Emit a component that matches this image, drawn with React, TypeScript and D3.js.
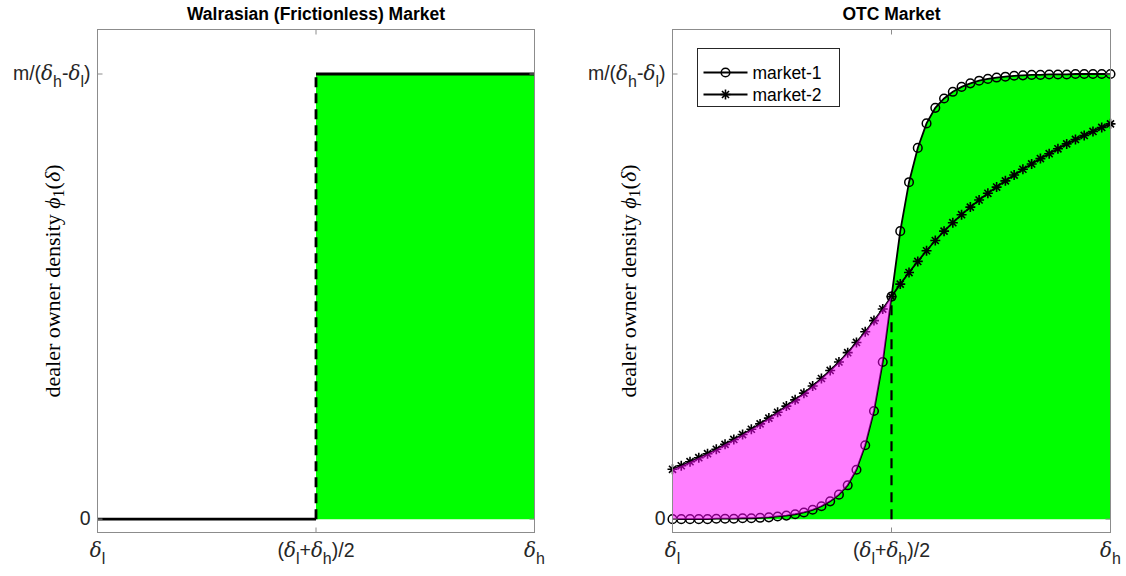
import React from 'react';
import * as d3 from 'd3';

// valuation grid on [delta_l, delta_h], normalised to [0, 1]
const deltaGrid = [
  0.0, 0.02, 0.04, 0.06, 0.08, 0.1, 0.12, 0.14, 0.16, 0.18,
  0.2, 0.22, 0.24, 0.26, 0.28, 0.3, 0.32, 0.34, 0.36, 0.38,
  0.4, 0.42, 0.44, 0.46, 0.48, 0.5, 0.52, 0.54, 0.56, 0.58,
  0.6, 0.62, 0.64, 0.66, 0.68, 0.7, 0.72, 0.74, 0.76, 0.78,
  0.8, 0.82, 0.84, 0.86, 0.88, 0.9, 0.92, 0.94, 0.96, 0.98, 1.0,
];

// dealer owner density phi_1(delta), in units of m/(delta_h - delta_l)
const market1 = [
  0.0, 0.0, 0.0, 0.0, 0.0, 0.001, 0.001, 0.001, 0.002, 0.002,
  0.003, 0.004, 0.006, 0.008, 0.011, 0.015, 0.021, 0.029, 0.04, 0.055,
  0.076, 0.111, 0.166, 0.243, 0.353, 0.5, 0.647, 0.757, 0.834, 0.889,
  0.924, 0.945, 0.96, 0.971, 0.979, 0.985, 0.989, 0.992, 0.994, 0.996,
  0.997, 0.998, 0.998, 0.999, 0.999, 0.999, 1.0, 1.0, 1.0, 1.0, 1.0,
];
const market2 = [
  0.112, 0.12, 0.129, 0.138, 0.147, 0.157, 0.168, 0.179, 0.19, 0.202,
  0.214, 0.227, 0.24, 0.254, 0.268, 0.283, 0.299, 0.316, 0.334, 0.353,
  0.374, 0.397, 0.421, 0.446, 0.472, 0.5, 0.528, 0.554, 0.579, 0.603,
  0.626, 0.647, 0.666, 0.684, 0.701, 0.717, 0.732, 0.746, 0.76, 0.773,
  0.786, 0.798, 0.81, 0.821, 0.832, 0.843, 0.853, 0.862, 0.871, 0.88, 0.888,
];

// Walrasian step: nobody below the midpoint, full density above it
const walrasX = [0, 0.5, 1];
const walrasLow = 0;
const walrasHigh = 1;
const midpoint = 0.5;

const xTickValues = [0, 0.5, 1];
const yTickValues = [0, 1];
const titles = ['Walrasian (Frictionless) Market', 'OTC Market'];
const legendLabels = ['market-1', 'market-2'];

type Part = { t: string; kind?: 'greek' | 'sub' };
const xTickParts: Part[][] = [
  [{ t: 'δ', kind: 'greek' }, { t: 'l', kind: 'sub' }],
  [{ t: '(' }, { t: 'δ', kind: 'greek' }, { t: 'l', kind: 'sub' }, { t: '+' }, { t: 'δ', kind: 'greek' }, { t: 'h', kind: 'sub' }, { t: ')/2' }],
  [{ t: 'δ', kind: 'greek' }, { t: 'h', kind: 'sub' }],
];
const yTickParts: Part[][] = [
  [{ t: '0' }],
  [{ t: 'm/(' }, { t: 'δ', kind: 'greek' }, { t: 'h', kind: 'sub' }, { t: '-' }, { t: 'δ', kind: 'greek' }, { t: 'l', kind: 'sub' }, { t: ')' }],
];

const SANS = '"Liberation Sans", Arial, Helvetica, sans-serif';
const SERIF = '"Liberation Serif", "Times New Roman", serif';
const GREEK = '"DejaVu Serif", "Liberation Serif", serif';
const GREEN = '#00ff00';
const TEXT = '#262626';
const AXIS = '#8c8c8c';

const W = 1126;
const H = 576;
const TOP = 29.5;
const BOTTOM = 532.5;
const panels = [
  { x0: 97.5, x1: 534.5, labelX: 60 },
  { x0: 672.5, x1: 1110.5, labelX: 636 },
];

function RichText({ x, y, parts, anchor, size }: { x: number; y: number; parts: Part[]; anchor: string; size: number }) {
  let shift = 0;
  const nodes = parts.map((p, i) => {
    const target = p.kind === 'sub' ? size * 0.36 : 0;
    const dy = target - shift;
    shift = target;
    const fs = p.kind === 'sub' ? size * 0.82 : p.kind === 'greek' ? size * 1.02 : size;
    return (
      <tspan key={i} dy={dy} fontSize={fs}
        fontFamily={p.kind === 'greek' ? GREEK : SANS}
        fontStyle={p.kind === 'greek' ? 'italic' : 'normal'}>{p.t}</tspan>
    );
  });
  return (
    <text x={x} y={y} textAnchor={anchor} fontSize={size} fontFamily={SANS} fill={TEXT}>{nodes}</text>
  );
}

function asteriskPath(cx: number, cy: number, r: number) {
  const d = r * Math.SQRT1_2;
  return `M${cx - r},${cy}L${cx + r},${cy}M${cx},${cy - r}L${cx},${cy + r}` +
    `M${cx - d},${cy - d}L${cx + d},${cy + d}M${cx - d},${cy + d}L${cx + d},${cy - d}`;
}

function Frame({ x, y, title, labelX }: { x: d3.ScaleLinear<number, number>; y: d3.ScaleLinear<number, number>; title: string; labelX: number }) {
  const [x0, x1] = x.range();
  const cx = (x0 + x1) / 2;
  const cy = (TOP + BOTTOM) / 2;
  const tickLen = 5;
  return (
    <g>
      <rect x={x0} y={TOP} width={x1 - x0} height={BOTTOM - TOP} fill="none" stroke={AXIS} strokeWidth={1} />
      {xTickValues.map((v, i) => (
        <g key={'xt' + i}>
          <line x1={x(v)} x2={x(v)} y1={BOTTOM} y2={BOTTOM - tickLen} stroke={AXIS} />
          <line x1={x(v)} x2={x(v)} y1={TOP} y2={TOP + tickLen} stroke={AXIS} />
          <RichText x={x(v)} y={BOTTOM + 24} parts={xTickParts[i]} anchor="middle" size={19.5} />
        </g>
      ))}
      {yTickValues.map((v, i) => (
        <g key={'yt' + i}>
          <line x1={x0} x2={x0 + tickLen} y1={y(v)} y2={y(v)} stroke={AXIS} />
          <line x1={x1} x2={x1 - tickLen} y1={y(v)} y2={y(v)} stroke={AXIS} />
          <RichText x={x0 - 7} y={y(v) + 6} parts={yTickParts[i]} anchor="end" size={19.5} />
        </g>
      ))}
      <text x={cx} y={20} textAnchor="middle" fontFamily={SANS} fontWeight="bold" fontSize={17.5} fill="#000">{title}</text>
      <text transform={`translate(${labelX},${cy}) rotate(-90)`} textAnchor="middle" fontFamily={SERIF} fontSize={22} fill="#000">
        <tspan>dealer owner density </tspan>
        <tspan fontStyle="italic">ϕ</tspan>
        <tspan fontSize={16} dy={4}>1</tspan>
        <tspan dy={-4}>(</tspan>
        <tspan fontStyle="italic">δ</tspan>
        <tspan>)</tspan>
      </text>
    </g>
  );
}

function WalrasPanel() {
  const p = panels[0];
  const x = d3.scaleLinear().domain([0, 1]).range([p.x0, p.x1]);
  const y = d3.scaleLinear().domain([-0.03, 1.1]).range([BOTTOM, TOP]);
  const upper = walrasX.filter((v) => v >= midpoint);
  const lower = walrasX.filter((v) => v <= midpoint);
  const fillArea = d3.area<number>().x((v) => x(v)).y0(y(walrasLow)).y1(y(walrasHigh));
  const seg = d3.line<[number, number]>().x((d) => x(d[0])).y((d) => y(d[1]));
  return (
    <g>
      <path d={fillArea(upper) || ''} fill={GREEN} />
      <path d={seg(lower.map((v) => [v, walrasLow] as [number, number])) || ''} stroke="#000" strokeWidth={2.8} fill="none" />
      <path d={seg(upper.map((v) => [v, walrasHigh] as [number, number])) || ''} stroke="#000" strokeWidth={2.8} fill="none" />
      <path d={seg([[midpoint, walrasLow], [midpoint, walrasHigh]]) || ''} stroke="#000" strokeWidth={2.8} strokeDasharray="10,6" fill="none" />
      <Frame x={x} y={y} title={titles[0]} labelX={p.labelX} />
    </g>
  );
}

function OtcPanel() {
  const p = panels[1];
  const x = d3.scaleLinear().domain([0, 1]).range([p.x0, p.x1]);
  const y = d3.scaleLinear().domain([-0.03, 1.1]).range([BOTTOM, TOP]);
  const idx = deltaGrid.map((_, i) => i);
  const leftIdx = idx.filter((i) => deltaGrid[i] <= midpoint);
  const midIdx = deltaGrid.indexOf(midpoint);
  const greenArea = d3.area<number>().x((i) => x(deltaGrid[i])).y0(y(0)).y1((i) => y(market1[i]));
  const gapArea = d3.area<number>().x((i) => x(deltaGrid[i])).y0((i) => y(market1[i])).y1((i) => y(market2[i]));
  const line1 = d3.line<number>().x((i) => x(deltaGrid[i])).y((i) => y(market1[i]));
  const line2 = d3.line<number>().x((i) => x(deltaGrid[i])).y((i) => y(market2[i]));

  const lg = { x: 697.5, y: 48.5, w: 142, h: 58 };
  const rows = [lg.y + 24, lg.y + 46];
  const circleR = 4.3;
  const starR = 5;
  return (
    <g>
      <path d={greenArea(idx) || ''} fill={GREEN} />
      <line x1={x(midpoint)} x2={x(midpoint)} y1={y(0)} y2={y(market1[midIdx])} stroke="#000" strokeWidth={2.2} strokeDasharray="10,7" />
      <path d={line1(idx) || ''} stroke="#000" strokeWidth={1.8} fill="none" />
      <path d={line2(idx) || ''} stroke="#000" strokeWidth={1.8} fill="none" />
      {idx.map((i) => (
        <circle key={'c' + i} cx={x(deltaGrid[i])} cy={y(market1[i])} r={circleR} fill="none" stroke="#000" strokeWidth={1.5} />
      ))}
      {idx.map((i) => (
        <path key={'s' + i} d={asteriskPath(x(deltaGrid[i]), y(market2[i]), starR)} stroke="#000" strokeWidth={1.6} fill="none" />
      ))}
      <path d={gapArea(leftIdx) || ''} fill="#ff00ff" fillOpacity={0.5} />
      <Frame x={x} y={y} title={titles[1]} labelX={p.labelX} />
      <g>
        <rect x={lg.x} y={lg.y} width={lg.w} height={lg.h} fill="#fff" stroke="#262626" strokeWidth={1} />
        {legendLabels.map((lab, k) => (
          <g key={lab}>
            <line x1={lg.x + 6} x2={lg.x + 50} y1={rows[k]} y2={rows[k]} stroke="#000" strokeWidth={1.8} />
            {k === 0 ? (
              <circle cx={lg.x + 28} cy={rows[k]} r={circleR} fill="none" stroke="#000" strokeWidth={1.5} />
            ) : (
              <path d={asteriskPath(lg.x + 28, rows[k], starR)} stroke="#000" strokeWidth={1.6} fill="none" />
            )}
            <text x={lg.x + 55} y={rows[k] + 6} fontFamily={SANS} fontSize={17.5} fill="#000">{lab}</text>
          </g>
        ))}
      </g>
    </g>
  );
}

export default function App() {
  return (
    <svg width={W} height={H} viewBox={`0 0 ${W} ${H}`}
      style={{ position: 'absolute', left: 0, top: 0, background: '#fff' }}>
      <rect x={0} y={0} width={W} height={H} fill="#fff" />
      <WalrasPanel />
      <OtcPanel />
    </svg>
  );
}
